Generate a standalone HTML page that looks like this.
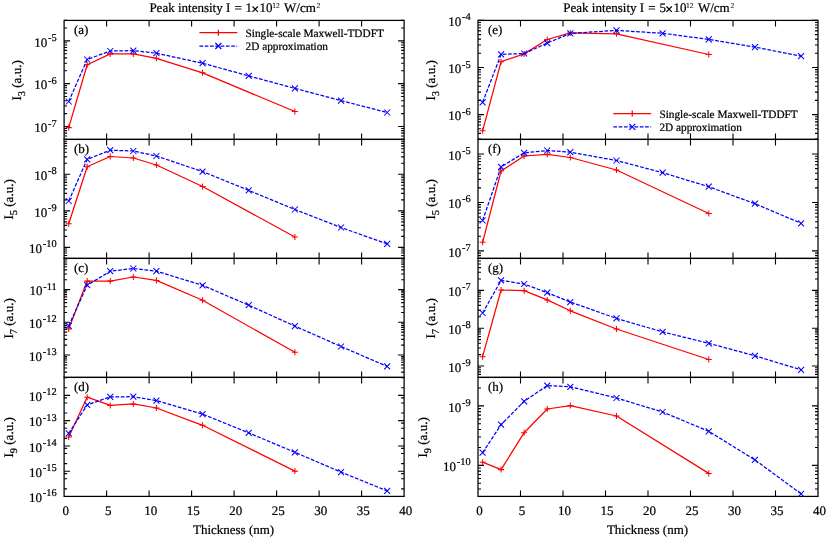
<!DOCTYPE html>
<html><head><meta charset="utf-8"><title>Chart</title><style>html,body{margin:0;padding:0;background:#fff}svg{display:block;will-change:transform}</style></head><body>
<svg width="831" height="538" viewBox="0 0 831 538" font-family="'Liberation Serif', serif" font-size="13.0" fill="#000" text-rendering="geometricPrecision"><style>text{stroke:#000;stroke-width:0.22px}</style>
<rect width="831" height="538" fill="#fff"/>
<path d="M106.6 20.4v6.0M106.6 139.4v-6.0M149.1 20.4v6.0M149.1 139.4v-6.0M191.6 20.4v6.0M191.6 139.4v-6.0M234.1 20.4v6.0M234.1 139.4v-6.0M276.6 20.4v6.0M276.6 139.4v-6.0M319.1 20.4v6.0M319.1 139.4v-6.0M361.6 20.4v6.0M361.6 139.4v-6.0M64.1 139.39h3.0M404.1 139.39h-3.0M64.1 136h3.0M404.1 136h-3.0M64.1 133.13h3.0M404.1 133.13h-3.0M64.1 130.65h3.0M404.1 130.65h-3.0M64.1 128.46h3.0M404.1 128.46h-3.0M64.1 126.5h6.0M404.1 126.5h-6.0M64.1 113.61h3.0M404.1 113.61h-3.0M64.1 106.06h3.0M404.1 106.06h-3.0M64.1 100.71h3.0M404.1 100.71h-3.0M64.1 96.56h3.0M404.1 96.56h-3.0M64.1 93.17h3.0M404.1 93.17h-3.0M64.1 90.3h3.0M404.1 90.3h-3.0M64.1 87.82h3.0M404.1 87.82h-3.0M64.1 85.63h3.0M404.1 85.63h-3.0M64.1 83.67h6.0M404.1 83.67h-6.0M64.1 70.78h3.0M404.1 70.78h-3.0M64.1 63.23h3.0M404.1 63.23h-3.0M64.1 57.88h3.0M404.1 57.88h-3.0M64.1 53.73h3.0M404.1 53.73h-3.0M64.1 50.34h3.0M404.1 50.34h-3.0M64.1 47.47h3.0M404.1 47.47h-3.0M64.1 44.99h3.0M404.1 44.99h-3.0M64.1 42.8h3.0M404.1 42.8h-3.0M64.1 40.84h6.0M404.1 40.84h-6.0M64.1 27.95h3.0M404.1 27.95h-3.0M64.1 20.4h3.0M404.1 20.4h-3.0" stroke="#000" stroke-width="1.1" fill="none"/>
<rect x="64.1" y="20.4" width="340" height="119" fill="none" stroke="#000" stroke-width="1.25"/>
<text x="56.7" y="132.3" text-anchor="end">10<tspan font-size="10.4" dy="-5.8" dx="0.8">-7</tspan></text>
<text x="56.7" y="89.47" text-anchor="end">10<tspan font-size="10.4" dy="-5.8" dx="0.8">-6</tspan></text>
<text x="56.7" y="46.64" text-anchor="end">10<tspan font-size="10.4" dy="-5.8" dx="0.8">-5</tspan></text>
<text x="74" y="34.2">(a)</text>
<text transform="translate(21.1 80.4) rotate(-90)" text-anchor="middle">I<tspan font-size="10.4" dy="4.2">3</tspan><tspan dy="-4.2"> (a.u.)</tspan></text>
<clipPath id="ca"><rect x="63.5" y="19.8" width="341.2" height="120.2"/></clipPath>
<g clip-path="url(#ca)">
<polyline points="68.72,127.6 87.18,64.8 110.25,53.9 133.33,53.9 156.41,58.3 202.56,72.8 294.88,111.5" fill="none" stroke="#ff0000" stroke-width="1.25" stroke-linejoin="round"/>
<path d="M65.72 127.6h6.0M68.72 124.6v6.0M84.18 64.8h6.0M87.18 61.8v6.0M107.25 53.9h6.0M110.25 50.9v6.0M130.33 53.9h6.0M133.33 50.9v6.0M153.41 58.3h6.0M156.41 55.3v6.0M199.56 72.8h6.0M202.56 69.8v6.0M291.88 111.5h6.0M294.88 108.5v6.0" stroke="#ff0000" stroke-width="1.05" fill="none"/>
<polyline points="68.72,101.5 87.18,59.5 110.25,51 133.33,50.6 156.41,53.2 202.56,63.2 248.72,75.9 294.88,88.4 341.03,100.6 387.18,112.5" fill="none" stroke="#0000ff" stroke-width="1.25" stroke-dasharray="3.7 1.6" stroke-linejoin="round"/>
<path d="M65.72 98.5l6.0 6.0M65.72 104.5l6.0 -6.0M84.18 56.5l6.0 6.0M84.18 62.5l6.0 -6.0M107.25 48l6.0 6.0M107.25 54l6.0 -6.0M130.33 47.6l6.0 6.0M130.33 53.6l6.0 -6.0M153.41 50.2l6.0 6.0M153.41 56.2l6.0 -6.0M199.56 60.2l6.0 6.0M199.56 66.2l6.0 -6.0M245.72 72.9l6.0 6.0M245.72 78.9l6.0 -6.0M291.88 85.4l6.0 6.0M291.88 91.4l6.0 -6.0M338.03 97.6l6.0 6.0M338.03 103.6l6.0 -6.0M384.18 109.5l6.0 6.0M384.18 115.5l6.0 -6.0" stroke="#0000ff" stroke-width="1.05" fill="none"/>
</g>
<text x="149.4" y="11.8">Peak intensity I</text>
<text x="234.4" y="11.8">=</text>
<text x="245.6" y="11.8">1</text>
<path d="M252.5 6.5l5.4 5.4M252.5 11.9l5.4 -5.4" stroke="#000" stroke-width="1.15" fill="none"/>
<text x="259.6" y="11.8">10</text>
<text x="272.2" y="8.1" font-size="7.5" style="stroke-width:0.08px">12</text>
<text x="284" y="11.8">W/cm</text>
<text x="316.5" y="7.7" font-size="7.5" style="stroke-width:0.08px">2</text>
<path d="M106.6 139.4v6.0M106.6 258.4v-6.0M149.1 139.4v6.0M149.1 258.4v-6.0M191.6 139.4v6.0M191.6 258.4v-6.0M234.1 139.4v6.0M234.1 258.4v-6.0M276.6 139.4v6.0M276.6 258.4v-6.0M319.1 139.4v6.0M319.1 258.4v-6.0M361.6 139.4v6.0M361.6 258.4v-6.0M64.1 258.4h3.0M404.1 258.4h-3.0M64.1 255.5h3.0M404.1 255.5h-3.0M64.1 253.05h3.0M404.1 253.05h-3.0M64.1 250.93h3.0M404.1 250.93h-3.0M64.1 249.06h3.0M404.1 249.06h-3.0M64.1 247.39h6.0M404.1 247.39h-6.0M64.1 236.39h3.0M404.1 236.39h-3.0M64.1 229.95h3.0M404.1 229.95h-3.0M64.1 225.38h3.0M404.1 225.38h-3.0M64.1 221.84h3.0M404.1 221.84h-3.0M64.1 218.95h3.0M404.1 218.95h-3.0M64.1 216.5h3.0M404.1 216.5h-3.0M64.1 214.38h3.0M404.1 214.38h-3.0M64.1 212.51h3.0M404.1 212.51h-3.0M64.1 210.84h6.0M404.1 210.84h-6.0M64.1 199.83h3.0M404.1 199.83h-3.0M64.1 193.39h3.0M404.1 193.39h-3.0M64.1 188.83h3.0M404.1 188.83h-3.0M64.1 185.28h3.0M404.1 185.28h-3.0M64.1 182.39h3.0M404.1 182.39h-3.0M64.1 179.94h3.0M404.1 179.94h-3.0M64.1 177.82h3.0M404.1 177.82h-3.0M64.1 175.95h3.0M404.1 175.95h-3.0M64.1 174.28h6.0M404.1 174.28h-6.0M64.1 163.28h3.0M404.1 163.28h-3.0M64.1 156.84h3.0M404.1 156.84h-3.0M64.1 152.27h3.0M404.1 152.27h-3.0M64.1 148.73h3.0M404.1 148.73h-3.0M64.1 145.83h3.0M404.1 145.83h-3.0M64.1 143.39h3.0M404.1 143.39h-3.0M64.1 141.27h3.0M404.1 141.27h-3.0" stroke="#000" stroke-width="1.1" fill="none"/>
<rect x="64.1" y="139.4" width="340" height="119" fill="none" stroke="#000" stroke-width="1.25"/>
<text x="56.7" y="253.19" text-anchor="end">10<tspan font-size="10.4" dy="-5.8" dx="0.8">-10</tspan></text>
<text x="56.7" y="216.64" text-anchor="end">10<tspan font-size="10.4" dy="-5.8" dx="0.8">-9</tspan></text>
<text x="56.7" y="180.08" text-anchor="end">10<tspan font-size="10.4" dy="-5.8" dx="0.8">-8</tspan></text>
<text x="74" y="153.2">(b)</text>
<text transform="translate(13.1 199.4) rotate(-90)" text-anchor="middle">I<tspan font-size="10.4" dy="4.2">5</tspan><tspan dy="-4.2"> (a.u.)</tspan></text>
<clipPath id="cb"><rect x="63.5" y="138.8" width="341.2" height="120.2"/></clipPath>
<g clip-path="url(#cb)">
<polyline points="68.72,223.7 87.18,166.7 110.25,156.5 133.33,158 156.41,165 202.56,186.5 294.88,237" fill="none" stroke="#ff0000" stroke-width="1.25" stroke-linejoin="round"/>
<path d="M65.72 223.7h6.0M68.72 220.7v6.0M84.18 166.7h6.0M87.18 163.7v6.0M107.25 156.5h6.0M110.25 153.5v6.0M130.33 158h6.0M133.33 155v6.0M153.41 165h6.0M156.41 162v6.0M199.56 186.5h6.0M202.56 183.5v6.0M291.88 237h6.0M294.88 234v6.0" stroke="#ff0000" stroke-width="1.05" fill="none"/>
<polyline points="68.72,201 87.18,159.4 110.25,150.2 133.33,151 156.41,156 202.56,171.6 248.72,190.4 294.88,209.5 341.03,227.5 387.18,243.9" fill="none" stroke="#0000ff" stroke-width="1.25" stroke-dasharray="3.7 1.6" stroke-linejoin="round"/>
<path d="M65.72 198l6.0 6.0M65.72 204l6.0 -6.0M84.18 156.4l6.0 6.0M84.18 162.4l6.0 -6.0M107.25 147.2l6.0 6.0M107.25 153.2l6.0 -6.0M130.33 148l6.0 6.0M130.33 154l6.0 -6.0M153.41 153l6.0 6.0M153.41 159l6.0 -6.0M199.56 168.6l6.0 6.0M199.56 174.6l6.0 -6.0M245.72 187.4l6.0 6.0M245.72 193.4l6.0 -6.0M291.88 206.5l6.0 6.0M291.88 212.5l6.0 -6.0M338.03 224.5l6.0 6.0M338.03 230.5l6.0 -6.0M384.18 240.9l6.0 6.0M384.18 246.9l6.0 -6.0" stroke="#0000ff" stroke-width="1.05" fill="none"/>
</g>
<path d="M106.6 258.4v6.0M106.6 377.4v-6.0M149.1 258.4v6.0M149.1 377.4v-6.0M191.6 258.4v6.0M191.6 377.4v-6.0M234.1 258.4v6.0M234.1 377.4v-6.0M276.6 258.4v6.0M276.6 377.4v-6.0M319.1 258.4v6.0M319.1 377.4v-6.0M361.6 258.4v6.0M361.6 377.4v-6.0M64.1 372.1h3.0M404.1 372.1h-3.0M64.1 368.01h3.0M404.1 368.01h-3.0M64.1 364.84h3.0M404.1 364.84h-3.0M64.1 362.25h3.0M404.1 362.25h-3.0M64.1 360.07h3.0M404.1 360.07h-3.0M64.1 358.17h3.0M404.1 358.17h-3.0M64.1 356.5h3.0M404.1 356.5h-3.0M64.1 355h6.0M404.1 355h-6.0M64.1 345.16h3.0M404.1 345.16h-3.0M64.1 339.4h3.0M404.1 339.4h-3.0M64.1 335.31h3.0M404.1 335.31h-3.0M64.1 332.14h3.0M404.1 332.14h-3.0M64.1 329.55h3.0M404.1 329.55h-3.0M64.1 327.37h3.0M404.1 327.37h-3.0M64.1 325.47h3.0M404.1 325.47h-3.0M64.1 323.8h3.0M404.1 323.8h-3.0M64.1 322.3h6.0M404.1 322.3h-6.0M64.1 312.46h3.0M404.1 312.46h-3.0M64.1 306.7h3.0M404.1 306.7h-3.0M64.1 302.61h3.0M404.1 302.61h-3.0M64.1 299.44h3.0M404.1 299.44h-3.0M64.1 296.85h3.0M404.1 296.85h-3.0M64.1 294.67h3.0M404.1 294.67h-3.0M64.1 292.77h3.0M404.1 292.77h-3.0M64.1 291.1h3.0M404.1 291.1h-3.0M64.1 289.6h6.0M404.1 289.6h-6.0M64.1 279.76h3.0M404.1 279.76h-3.0M64.1 274h3.0M404.1 274h-3.0M64.1 269.91h3.0M404.1 269.91h-3.0M64.1 266.74h3.0M404.1 266.74h-3.0M64.1 264.15h3.0M404.1 264.15h-3.0M64.1 261.97h3.0M404.1 261.97h-3.0M64.1 260.07h3.0M404.1 260.07h-3.0" stroke="#000" stroke-width="1.1" fill="none"/>
<rect x="64.1" y="258.4" width="340" height="119" fill="none" stroke="#000" stroke-width="1.25"/>
<text x="56.7" y="360.8" text-anchor="end">10<tspan font-size="10.4" dy="-5.8" dx="0.8">-13</tspan></text>
<text x="56.7" y="328.1" text-anchor="end">10<tspan font-size="10.4" dy="-5.8" dx="0.8">-12</tspan></text>
<text x="56.7" y="295.4" text-anchor="end">10<tspan font-size="10.4" dy="-5.8" dx="0.8">-11</tspan></text>
<text x="74" y="272.2">(c)</text>
<text transform="translate(13.1 318.4) rotate(-90)" text-anchor="middle">I<tspan font-size="10.4" dy="4.2">7</tspan><tspan dy="-4.2"> (a.u.)</tspan></text>
<clipPath id="cc"><rect x="63.5" y="257.8" width="341.2" height="120.2"/></clipPath>
<g clip-path="url(#cc)">
<polyline points="68.72,328.9 87.18,281.1 110.25,281.1 133.33,277 156.41,280.4 202.56,300.2 294.88,352.3" fill="none" stroke="#ff0000" stroke-width="1.25" stroke-linejoin="round"/>
<path d="M65.72 328.9h6.0M68.72 325.9v6.0M84.18 281.1h6.0M87.18 278.1v6.0M107.25 281.1h6.0M110.25 278.1v6.0M130.33 277h6.0M133.33 274v6.0M153.41 280.4h6.0M156.41 277.4v6.0M199.56 300.2h6.0M202.56 297.2v6.0M291.88 352.3h6.0M294.88 349.3v6.0" stroke="#ff0000" stroke-width="1.05" fill="none"/>
<polyline points="68.72,325.8 87.18,285.2 110.25,271.2 133.33,268.5 156.41,271.2 202.56,285.3 248.72,305.2 294.88,326.1 341.03,346.5 387.18,366.4" fill="none" stroke="#0000ff" stroke-width="1.25" stroke-dasharray="3.7 1.6" stroke-linejoin="round"/>
<path d="M65.72 322.8l6.0 6.0M65.72 328.8l6.0 -6.0M84.18 282.2l6.0 6.0M84.18 288.2l6.0 -6.0M107.25 268.2l6.0 6.0M107.25 274.2l6.0 -6.0M130.33 265.5l6.0 6.0M130.33 271.5l6.0 -6.0M153.41 268.2l6.0 6.0M153.41 274.2l6.0 -6.0M199.56 282.3l6.0 6.0M199.56 288.3l6.0 -6.0M245.72 302.2l6.0 6.0M245.72 308.2l6.0 -6.0M291.88 323.1l6.0 6.0M291.88 329.1l6.0 -6.0M338.03 343.5l6.0 6.0M338.03 349.5l6.0 -6.0M384.18 363.4l6.0 6.0M384.18 369.4l6.0 -6.0" stroke="#0000ff" stroke-width="1.05" fill="none"/>
</g>
<path d="M106.6 377.4v6.0M106.6 496.4v-6.0M149.1 377.4v6.0M149.1 496.4v-6.0M191.6 377.4v6.0M191.6 496.4v-6.0M234.1 377.4v6.0M234.1 496.4v-6.0M276.6 377.4v6.0M276.6 496.4v-6.0M319.1 377.4v6.0M319.1 496.4v-6.0M361.6 377.4v6.0M361.6 496.4v-6.0M64.1 496.48h6.0M404.1 496.48h-6.0M64.1 488.87h3.0M404.1 488.87h-3.0M64.1 478.82h3.0M404.1 478.82h-3.0M64.1 473.66h3.0M404.1 473.66h-3.0M64.1 471.21h6.0M404.1 471.21h-6.0M64.1 463.6h3.0M404.1 463.6h-3.0M64.1 453.55h3.0M404.1 453.55h-3.0M64.1 448.39h3.0M404.1 448.39h-3.0M64.1 445.94h6.0M404.1 445.94h-6.0M64.1 438.33h3.0M404.1 438.33h-3.0M64.1 428.28h3.0M404.1 428.28h-3.0M64.1 423.12h3.0M404.1 423.12h-3.0M64.1 420.67h6.0M404.1 420.67h-6.0M64.1 413.06h3.0M404.1 413.06h-3.0M64.1 403.01h3.0M404.1 403.01h-3.0M64.1 397.85h3.0M404.1 397.85h-3.0M64.1 395.4h6.0M404.1 395.4h-6.0M64.1 387.79h3.0M404.1 387.79h-3.0M64.1 377.74h3.0M404.1 377.74h-3.0" stroke="#000" stroke-width="1.1" fill="none"/>
<rect x="64.1" y="377.4" width="340" height="119" fill="none" stroke="#000" stroke-width="1.25"/>
<text x="56.7" y="502.28" text-anchor="end">10<tspan font-size="10.4" dy="-5.8" dx="0.8">-16</tspan></text>
<text x="56.7" y="477.01" text-anchor="end">10<tspan font-size="10.4" dy="-5.8" dx="0.8">-15</tspan></text>
<text x="56.7" y="451.74" text-anchor="end">10<tspan font-size="10.4" dy="-5.8" dx="0.8">-14</tspan></text>
<text x="56.7" y="426.47" text-anchor="end">10<tspan font-size="10.4" dy="-5.8" dx="0.8">-13</tspan></text>
<text x="56.7" y="401.2" text-anchor="end">10<tspan font-size="10.4" dy="-5.8" dx="0.8">-12</tspan></text>
<text x="74" y="391.2">(d)</text>
<text transform="translate(13.1 437.4) rotate(-90)" text-anchor="middle">I<tspan font-size="10.4" dy="4.2">9</tspan><tspan dy="-4.2"> (a.u.)</tspan></text>
<clipPath id="cd"><rect x="63.5" y="376.8" width="341.2" height="120.2"/></clipPath>
<g clip-path="url(#cd)">
<polyline points="68.72,437 87.18,397.2 110.25,405.4 133.33,403.9 156.41,408 202.56,425.3 294.88,471.1" fill="none" stroke="#ff0000" stroke-width="1.25" stroke-linejoin="round"/>
<path d="M65.72 437h6.0M68.72 434v6.0M84.18 397.2h6.0M87.18 394.2v6.0M107.25 405.4h6.0M110.25 402.4v6.0M130.33 403.9h6.0M133.33 400.9v6.0M153.41 408h6.0M156.41 405v6.0M199.56 425.3h6.0M202.56 422.3v6.0M291.88 471.1h6.0M294.88 468.1v6.0" stroke="#ff0000" stroke-width="1.05" fill="none"/>
<polyline points="68.72,433.4 87.18,404.9 110.25,396.9 133.33,396.7 156.41,400.6 202.56,414.1 248.72,432.9 294.88,452.3 341.03,472.1 387.18,490.9" fill="none" stroke="#0000ff" stroke-width="1.25" stroke-dasharray="3.7 1.6" stroke-linejoin="round"/>
<path d="M65.72 430.4l6.0 6.0M65.72 436.4l6.0 -6.0M84.18 401.9l6.0 6.0M84.18 407.9l6.0 -6.0M107.25 393.9l6.0 6.0M107.25 399.9l6.0 -6.0M130.33 393.7l6.0 6.0M130.33 399.7l6.0 -6.0M153.41 397.6l6.0 6.0M153.41 403.6l6.0 -6.0M199.56 411.1l6.0 6.0M199.56 417.1l6.0 -6.0M245.72 429.9l6.0 6.0M245.72 435.9l6.0 -6.0M291.88 449.3l6.0 6.0M291.88 455.3l6.0 -6.0M338.03 469.1l6.0 6.0M338.03 475.1l6.0 -6.0M384.18 487.9l6.0 6.0M384.18 493.9l6.0 -6.0" stroke="#0000ff" stroke-width="1.05" fill="none"/>
</g>
<text x="65.7" y="514.6" text-anchor="middle">0</text>
<text x="108.2" y="514.6" text-anchor="middle">5</text>
<text x="150.7" y="514.6" text-anchor="middle">10</text>
<text x="193.2" y="514.6" text-anchor="middle">15</text>
<text x="235.7" y="514.6" text-anchor="middle">20</text>
<text x="278.2" y="514.6" text-anchor="middle">25</text>
<text x="320.7" y="514.6" text-anchor="middle">30</text>
<text x="363.2" y="514.6" text-anchor="middle">35</text>
<text x="405.7" y="514.6" text-anchor="middle">40</text>
<text x="233.6" y="534.4" text-anchor="middle">Thickness (nm)</text>
<path d="M520.5 20.4v6.0M520.5 139.4v-6.0M563 20.4v6.0M563 139.4v-6.0M605.5 20.4v6.0M605.5 139.4v-6.0M648 20.4v6.0M648 139.4v-6.0M690.5 20.4v6.0M690.5 139.4v-6.0M733 20.4v6.0M733 139.4v-6.0M775.5 20.4v6.0M775.5 139.4v-6.0M478 139.23h3.0M818 139.23h-3.0M478 133.34h3.0M818 133.34h-3.0M478 128.78h3.0M818 128.78h-3.0M478 125.05h3.0M818 125.05h-3.0M478 121.9h3.0M818 121.9h-3.0M478 119.16h3.0M818 119.16h-3.0M478 116.76h3.0M818 116.76h-3.0M478 114.6h6.0M818 114.6h-6.0M478 100.42h3.0M818 100.42h-3.0M478 92.13h3.0M818 92.13h-3.0M478 86.24h3.0M818 86.24h-3.0M478 81.68h3.0M818 81.68h-3.0M478 77.95h3.0M818 77.95h-3.0M478 74.8h3.0M818 74.8h-3.0M478 72.06h3.0M818 72.06h-3.0M478 69.66h3.0M818 69.66h-3.0M478 67.5h6.0M818 67.5h-6.0M478 53.32h3.0M818 53.32h-3.0M478 45.03h3.0M818 45.03h-3.0M478 39.14h3.0M818 39.14h-3.0M478 34.58h3.0M818 34.58h-3.0M478 30.85h3.0M818 30.85h-3.0M478 27.7h3.0M818 27.7h-3.0M478 24.96h3.0M818 24.96h-3.0M478 22.56h3.0M818 22.56h-3.0M478 20.4h6.0M818 20.4h-6.0" stroke="#000" stroke-width="1.1" fill="none"/>
<rect x="478" y="20.4" width="340" height="119" fill="none" stroke="#000" stroke-width="1.25"/>
<text x="470.6" y="120.4" text-anchor="end">10<tspan font-size="10.4" dy="-5.8" dx="0.8">-6</tspan></text>
<text x="470.6" y="73.3" text-anchor="end">10<tspan font-size="10.4" dy="-5.8" dx="0.8">-5</tspan></text>
<text x="470.6" y="26.2" text-anchor="end">10<tspan font-size="10.4" dy="-5.8" dx="0.8">-4</tspan></text>
<text x="487.9" y="34.2">(e)</text>
<text transform="translate(435 80.4) rotate(-90)" text-anchor="middle">I<tspan font-size="10.4" dy="4.2">3</tspan><tspan dy="-4.2"> (a.u.)</tspan></text>
<clipPath id="ce"><rect x="477.4" y="19.8" width="341.2" height="120.2"/></clipPath>
<g clip-path="url(#ce)">
<polyline points="482.62,130.8 501.08,61.7 524.15,53.9 547.23,39.5 570.31,32.9 616.47,33.8 708.77,54.5" fill="none" stroke="#ff0000" stroke-width="1.25" stroke-linejoin="round"/>
<path d="M479.62 130.8h6.0M482.62 127.8v6.0M498.08 61.7h6.0M501.08 58.7v6.0M521.15 53.9h6.0M524.15 50.9v6.0M544.23 39.5h6.0M547.23 36.5v6.0M567.31 32.9h6.0M570.31 29.9v6.0M613.47 33.8h6.0M616.47 30.8v6.0M705.77 54.5h6.0M708.77 51.5v6.0" stroke="#ff0000" stroke-width="1.05" fill="none"/>
<polyline points="482.62,102.3 501.08,54.4 524.15,53.5 547.23,43.1 570.31,33.4 616.47,30.4 662.62,33.3 708.77,39.4 754.93,47.1 801.09,56.1" fill="none" stroke="#0000ff" stroke-width="1.25" stroke-dasharray="3.7 1.6" stroke-linejoin="round"/>
<path d="M479.62 99.3l6.0 6.0M479.62 105.3l6.0 -6.0M498.08 51.4l6.0 6.0M498.08 57.4l6.0 -6.0M521.15 50.5l6.0 6.0M521.15 56.5l6.0 -6.0M544.23 40.1l6.0 6.0M544.23 46.1l6.0 -6.0M567.31 30.4l6.0 6.0M567.31 36.4l6.0 -6.0M613.47 27.4l6.0 6.0M613.47 33.4l6.0 -6.0M659.62 30.3l6.0 6.0M659.62 36.3l6.0 -6.0M705.77 36.4l6.0 6.0M705.77 42.4l6.0 -6.0M751.93 44.1l6.0 6.0M751.93 50.1l6.0 -6.0M798.09 53.1l6.0 6.0M798.09 59.1l6.0 -6.0" stroke="#0000ff" stroke-width="1.05" fill="none"/>
</g>
<text x="563.3" y="11.8">Peak intensity I</text>
<text x="648.3" y="11.8">=</text>
<text x="659.5" y="11.8">5</text>
<path d="M666.4 6.5l5.4 5.4M666.4 11.9l5.4 -5.4" stroke="#000" stroke-width="1.15" fill="none"/>
<text x="673.5" y="11.8">10</text>
<text x="686.1" y="8.1" font-size="7.5" style="stroke-width:0.08px">12</text>
<text x="697.9" y="11.8">W/cm</text>
<text x="730.4" y="7.7" font-size="7.5" style="stroke-width:0.08px">2</text>
<path d="M520.5 139.4v6.0M520.5 258.4v-6.0M563 139.4v6.0M563 258.4v-6.0M605.5 139.4v6.0M605.5 258.4v-6.0M648 139.4v6.0M648 258.4v-6.0M690.5 139.4v6.0M690.5 258.4v-6.0M733 139.4v6.0M733 258.4v-6.0M775.5 139.4v6.0M775.5 258.4v-6.0M478 255.59h3.0M818 255.59h-3.0M478 253.11h3.0M818 253.11h-3.0M478 250.9h6.0M818 250.9h-6.0M478 236.31h3.0M818 236.31h-3.0M478 227.78h3.0M818 227.78h-3.0M478 221.72h3.0M818 221.72h-3.0M478 217.03h3.0M818 217.03h-3.0M478 213.19h3.0M818 213.19h-3.0M478 209.95h3.0M818 209.95h-3.0M478 207.14h3.0M818 207.14h-3.0M478 204.66h3.0M818 204.66h-3.0M478 202.44h6.0M818 202.44h-6.0M478 187.86h3.0M818 187.86h-3.0M478 179.33h3.0M818 179.33h-3.0M478 173.27h3.0M818 173.27h-3.0M478 168.58h3.0M818 168.58h-3.0M478 164.74h3.0M818 164.74h-3.0M478 161.5h3.0M818 161.5h-3.0M478 158.69h3.0M818 158.69h-3.0M478 156.21h3.0M818 156.21h-3.0M478 153.99h6.0M818 153.99h-6.0M478 139.4h3.0M818 139.4h-3.0" stroke="#000" stroke-width="1.1" fill="none"/>
<rect x="478" y="139.4" width="340" height="119" fill="none" stroke="#000" stroke-width="1.25"/>
<text x="470.6" y="256.7" text-anchor="end">10<tspan font-size="10.4" dy="-5.8" dx="0.8">-7</tspan></text>
<text x="470.6" y="208.24" text-anchor="end">10<tspan font-size="10.4" dy="-5.8" dx="0.8">-6</tspan></text>
<text x="470.6" y="159.79" text-anchor="end">10<tspan font-size="10.4" dy="-5.8" dx="0.8">-5</tspan></text>
<text x="487.9" y="153.2">(f)</text>
<text transform="translate(435 199.4) rotate(-90)" text-anchor="middle">I<tspan font-size="10.4" dy="4.2">5</tspan><tspan dy="-4.2"> (a.u.)</tspan></text>
<clipPath id="cf"><rect x="477.4" y="138.8" width="341.2" height="120.2"/></clipPath>
<g clip-path="url(#cf)">
<polyline points="482.62,242.3 501.08,171 524.15,156 547.23,154.3 570.31,157.5 616.47,170 708.77,213.5" fill="none" stroke="#ff0000" stroke-width="1.25" stroke-linejoin="round"/>
<path d="M479.62 242.3h6.0M482.62 239.3v6.0M498.08 171h6.0M501.08 168v6.0M521.15 156h6.0M524.15 153v6.0M544.23 154.3h6.0M547.23 151.3v6.0M567.31 157.5h6.0M570.31 154.5v6.0M613.47 170h6.0M616.47 167v6.0M705.77 213.5h6.0M708.77 210.5v6.0" stroke="#ff0000" stroke-width="1.05" fill="none"/>
<polyline points="482.62,220.5 501.08,166.9 524.15,152.9 547.23,150.5 570.31,152.2 616.47,160.5 662.62,172.7 708.77,186.7 754.93,203.7 801.09,223.3" fill="none" stroke="#0000ff" stroke-width="1.25" stroke-dasharray="3.7 1.6" stroke-linejoin="round"/>
<path d="M479.62 217.5l6.0 6.0M479.62 223.5l6.0 -6.0M498.08 163.9l6.0 6.0M498.08 169.9l6.0 -6.0M521.15 149.9l6.0 6.0M521.15 155.9l6.0 -6.0M544.23 147.5l6.0 6.0M544.23 153.5l6.0 -6.0M567.31 149.2l6.0 6.0M567.31 155.2l6.0 -6.0M613.47 157.5l6.0 6.0M613.47 163.5l6.0 -6.0M659.62 169.7l6.0 6.0M659.62 175.7l6.0 -6.0M705.77 183.7l6.0 6.0M705.77 189.7l6.0 -6.0M751.93 200.7l6.0 6.0M751.93 206.7l6.0 -6.0M798.09 220.3l6.0 6.0M798.09 226.3l6.0 -6.0" stroke="#0000ff" stroke-width="1.05" fill="none"/>
</g>
<path d="M520.5 258.4v6.0M520.5 377.4v-6.0M563 258.4v6.0M563 377.4v-6.0M605.5 258.4v6.0M605.5 377.4v-6.0M648 258.4v6.0M648 377.4v-6.0M690.5 258.4v6.0M690.5 377.4v-6.0M733 258.4v6.0M733 377.4v-6.0M775.5 258.4v6.0M775.5 377.4v-6.0M478 374.41h3.0M818 374.41h-3.0M478 371.88h3.0M818 371.88h-3.0M478 369.68h3.0M818 369.68h-3.0M478 367.75h3.0M818 367.75h-3.0M478 366.02h6.0M818 366.02h-6.0M478 354.63h3.0M818 354.63h-3.0M478 347.97h3.0M818 347.97h-3.0M478 343.25h3.0M818 343.25h-3.0M478 339.58h3.0M818 339.58h-3.0M478 336.59h3.0M818 336.59h-3.0M478 334.05h3.0M818 334.05h-3.0M478 331.86h3.0M818 331.86h-3.0M478 329.92h3.0M818 329.92h-3.0M478 328.19h6.0M818 328.19h-6.0M478 316.81h3.0M818 316.81h-3.0M478 310.15h3.0M818 310.15h-3.0M478 305.42h3.0M818 305.42h-3.0M478 301.76h3.0M818 301.76h-3.0M478 298.76h3.0M818 298.76h-3.0M478 296.23h3.0M818 296.23h-3.0M478 294.04h3.0M818 294.04h-3.0M478 292.1h3.0M818 292.1h-3.0M478 290.37h6.0M818 290.37h-6.0M478 278.98h3.0M818 278.98h-3.0M478 272.32h3.0M818 272.32h-3.0M478 267.6h3.0M818 267.6h-3.0M478 263.93h3.0M818 263.93h-3.0M478 260.94h3.0M818 260.94h-3.0M478 258.41h3.0M818 258.41h-3.0" stroke="#000" stroke-width="1.1" fill="none"/>
<rect x="478" y="258.4" width="340" height="119" fill="none" stroke="#000" stroke-width="1.25"/>
<text x="470.6" y="371.82" text-anchor="end">10<tspan font-size="10.4" dy="-5.8" dx="0.8">-9</tspan></text>
<text x="470.6" y="333.99" text-anchor="end">10<tspan font-size="10.4" dy="-5.8" dx="0.8">-8</tspan></text>
<text x="470.6" y="296.17" text-anchor="end">10<tspan font-size="10.4" dy="-5.8" dx="0.8">-7</tspan></text>
<text x="487.9" y="272.2">(g)</text>
<text transform="translate(435 318.4) rotate(-90)" text-anchor="middle">I<tspan font-size="10.4" dy="4.2">7</tspan><tspan dy="-4.2"> (a.u.)</tspan></text>
<clipPath id="cg"><rect x="477.4" y="257.8" width="341.2" height="120.2"/></clipPath>
<g clip-path="url(#cg)">
<polyline points="482.62,356.7 501.08,290 524.15,290.7 547.23,299.9 570.31,310.8 616.47,329 708.77,359.5" fill="none" stroke="#ff0000" stroke-width="1.25" stroke-linejoin="round"/>
<path d="M479.62 356.7h6.0M482.62 353.7v6.0M498.08 290h6.0M501.08 287v6.0M521.15 290.7h6.0M524.15 287.7v6.0M544.23 299.9h6.0M547.23 296.9v6.0M567.31 310.8h6.0M570.31 307.8v6.0M613.47 329h6.0M616.47 326v6.0M705.77 359.5h6.0M708.77 356.5v6.0" stroke="#ff0000" stroke-width="1.05" fill="none"/>
<polyline points="482.62,313 501.08,280.4 524.15,284 547.23,292.7 570.31,302.1 616.47,318.4 662.62,331.9 708.77,343.3 754.93,355.8 801.09,369.8" fill="none" stroke="#0000ff" stroke-width="1.25" stroke-dasharray="3.7 1.6" stroke-linejoin="round"/>
<path d="M479.62 310l6.0 6.0M479.62 316l6.0 -6.0M498.08 277.4l6.0 6.0M498.08 283.4l6.0 -6.0M521.15 281l6.0 6.0M521.15 287l6.0 -6.0M544.23 289.7l6.0 6.0M544.23 295.7l6.0 -6.0M567.31 299.1l6.0 6.0M567.31 305.1l6.0 -6.0M613.47 315.4l6.0 6.0M613.47 321.4l6.0 -6.0M659.62 328.9l6.0 6.0M659.62 334.9l6.0 -6.0M705.77 340.3l6.0 6.0M705.77 346.3l6.0 -6.0M751.93 352.8l6.0 6.0M751.93 358.8l6.0 -6.0M798.09 366.8l6.0 6.0M798.09 372.8l6.0 -6.0" stroke="#0000ff" stroke-width="1.05" fill="none"/>
</g>
<path d="M520.5 377.4v6.0M520.5 496.4v-6.0M563 377.4v6.0M563 496.4v-6.0M605.5 377.4v6.0M605.5 496.4v-6.0M648 377.4v6.0M648 496.4v-6.0M690.5 377.4v6.0M690.5 496.4v-6.0M733 377.4v6.0M733 496.4v-6.0M775.5 377.4v6.0M775.5 496.4v-6.0M478 489.01h3.0M818 489.01h-3.0M478 483.25h3.0M818 483.25h-3.0M478 478.54h3.0M818 478.54h-3.0M478 474.56h3.0M818 474.56h-3.0M478 471.11h3.0M818 471.11h-3.0M478 468.07h3.0M818 468.07h-3.0M478 465.35h6.0M818 465.35h-6.0M478 447.45h3.0M818 447.45h-3.0M478 436.99h3.0M818 436.99h-3.0M478 429.56h3.0M818 429.56h-3.0M478 423.8h3.0M818 423.8h-3.0M478 419.09h3.0M818 419.09h-3.0M478 415.11h3.0M818 415.11h-3.0M478 411.66h3.0M818 411.66h-3.0M478 408.62h3.0M818 408.62h-3.0M478 405.9h6.0M818 405.9h-6.0M478 388h3.0M818 388h-3.0M478 377.54h3.0M818 377.54h-3.0" stroke="#000" stroke-width="1.1" fill="none"/>
<rect x="478" y="377.4" width="340" height="119" fill="none" stroke="#000" stroke-width="1.25"/>
<text x="470.6" y="471.15" text-anchor="end">10<tspan font-size="10.4" dy="-5.8" dx="0.8">-10</tspan></text>
<text x="470.6" y="411.7" text-anchor="end">10<tspan font-size="10.4" dy="-5.8" dx="0.8">-9</tspan></text>
<text x="487.9" y="391.2">(h)</text>
<text transform="translate(427 437.4) rotate(-90)" text-anchor="middle">I<tspan font-size="10.4" dy="4.2">9</tspan><tspan dy="-4.2"> (a.u.)</tspan></text>
<clipPath id="ch"><rect x="477.4" y="376.8" width="341.2" height="120.2"/></clipPath>
<g clip-path="url(#ch)">
<polyline points="482.62,462.2 501.08,469.6 524.15,432.7 547.23,409 570.31,405.6 616.47,416 708.77,473.4" fill="none" stroke="#ff0000" stroke-width="1.25" stroke-linejoin="round"/>
<path d="M479.62 462.2h6.0M482.62 459.2v6.0M498.08 469.6h6.0M501.08 466.6v6.0M521.15 432.7h6.0M524.15 429.7v6.0M544.23 409h6.0M547.23 406v6.0M567.31 405.6h6.0M570.31 402.6v6.0M613.47 416h6.0M616.47 413v6.0M705.77 473.4h6.0M708.77 470.4v6.0" stroke="#ff0000" stroke-width="1.05" fill="none"/>
<polyline points="482.62,452.7 501.08,424.7 524.15,401.3 547.23,385.6 570.31,386.8 616.47,398 662.62,412 708.77,431.3 754.93,459.9 801.09,493.8" fill="none" stroke="#0000ff" stroke-width="1.25" stroke-dasharray="3.7 1.6" stroke-linejoin="round"/>
<path d="M479.62 449.7l6.0 6.0M479.62 455.7l6.0 -6.0M498.08 421.7l6.0 6.0M498.08 427.7l6.0 -6.0M521.15 398.3l6.0 6.0M521.15 404.3l6.0 -6.0M544.23 382.6l6.0 6.0M544.23 388.6l6.0 -6.0M567.31 383.8l6.0 6.0M567.31 389.8l6.0 -6.0M613.47 395l6.0 6.0M613.47 401l6.0 -6.0M659.62 409l6.0 6.0M659.62 415l6.0 -6.0M705.77 428.3l6.0 6.0M705.77 434.3l6.0 -6.0M751.93 456.9l6.0 6.0M751.93 462.9l6.0 -6.0M798.09 490.8l6.0 6.0M798.09 496.8l6.0 -6.0" stroke="#0000ff" stroke-width="1.05" fill="none"/>
</g>
<text x="479.6" y="514.6" text-anchor="middle">0</text>
<text x="522.1" y="514.6" text-anchor="middle">5</text>
<text x="564.6" y="514.6" text-anchor="middle">10</text>
<text x="607.1" y="514.6" text-anchor="middle">15</text>
<text x="649.6" y="514.6" text-anchor="middle">20</text>
<text x="692.1" y="514.6" text-anchor="middle">25</text>
<text x="734.6" y="514.6" text-anchor="middle">30</text>
<text x="777.1" y="514.6" text-anchor="middle">35</text>
<text x="819.6" y="514.6" text-anchor="middle">40</text>
<text x="647.5" y="534.4" text-anchor="middle">Thickness (nm)</text>
<path d="M199.4 32.7H237.3M218.35 29.7v6.0" stroke="#ff0000" stroke-width="1.25" fill="none"/>
<text x="245.5" y="36.6" font-size="11.3">Single-scale Maxwell-TDDFT</text>
<path d="M199.4 46H237.3" stroke="#0000ff" stroke-width="1.25" stroke-dasharray="3.7 1.6" fill="none"/>
<path d="M215.35 43l6.0 6.0M215.35 49l6.0 -6.0" stroke="#0000ff" stroke-width="1.25" fill="none"/>
<text x="245.5" y="49.9" font-size="11.3">2D approximation</text>
<path d="M613.3 113.6H651.2M632.25 110.6v6.0" stroke="#ff0000" stroke-width="1.25" fill="none"/>
<text x="659.4" y="117.5" font-size="11.3">Single-scale Maxwell-TDDFT</text>
<path d="M613.3 126.9H651.2" stroke="#0000ff" stroke-width="1.25" stroke-dasharray="3.7 1.6" fill="none"/>
<path d="M629.25 123.9l6.0 6.0M629.25 129.9l6.0 -6.0" stroke="#0000ff" stroke-width="1.25" fill="none"/>
<text x="659.4" y="130.8" font-size="11.3">2D approximation</text>
</svg>
</body></html>
